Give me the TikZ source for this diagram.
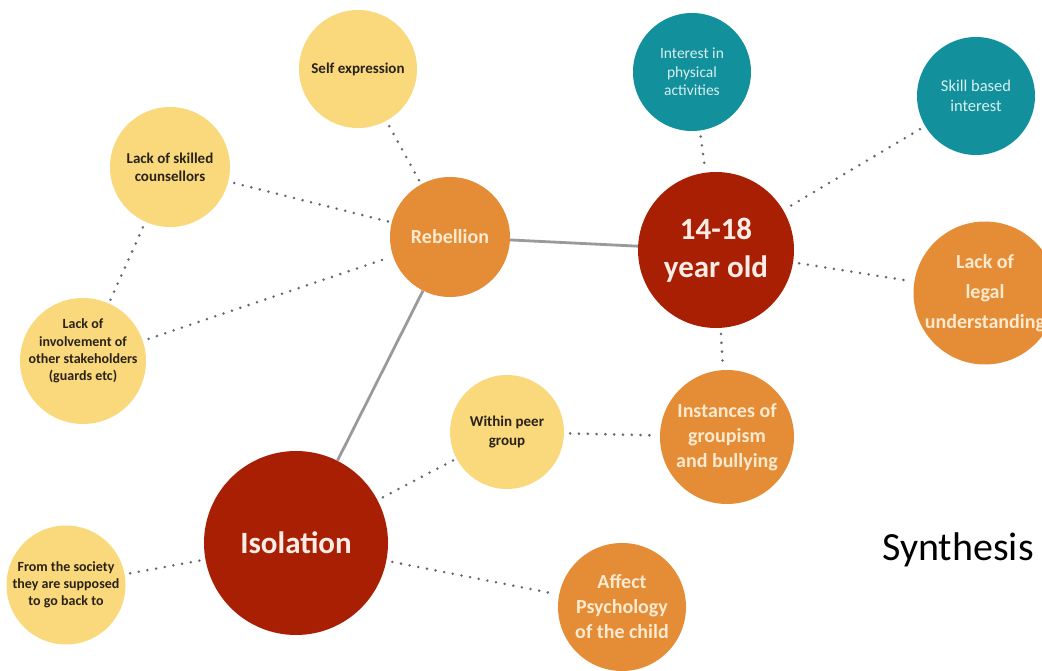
\documentclass[tikz,border=0pt]{standalone}
\usepackage{fontspec}
\setmainfont{Carlito}
\definecolor{cYel}{HTML}{F9D97C}
\definecolor{cOrg}{HTML}{E58D36}
\definecolor{cHub}{HTML}{A81F04}
\definecolor{cTeal}{HTML}{12919C}
\definecolor{cDark}{HTML}{2A2218}
\definecolor{cCream}{HTML}{FCEAD0}
\definecolor{cTealTxt}{HTML}{D8EFF0}
\definecolor{cHubTxt}{HTML}{FBEDE6}
\definecolor{cDot}{HTML}{5F6872}
\definecolor{cGray}{HTML}{9A9A9A}
\newcommand\myfs[2]{\fontsize{#1}{#2}\selectfont}
\tikzset{
  bub/.style={circle, inner sep=0pt, align=center},
  yel/.style={bub, fill=cYel, text=cDark, font=\bfseries\myfs{15}{18.3}},
  org/.style={bub, fill=cOrg, text=cCream, font=\bfseries\myfs{20}{25}},
  hub/.style={bub, fill=cHub, text=cHubTxt},
  tealbub/.style={bub, fill=cTeal, text=cTealTxt, font=\myfs{15.5}{18.5}},
  dotline/.style={draw=cDot, line width=2.8pt, line cap=round, dash pattern=on 0pt off 8.8pt, shorten <=6pt, shorten >=3pt},
  solidline/.style={draw=cGray, line width=2.8pt},
}
\begin{document}
\begin{tikzpicture}[x=1pt,y=-1pt]
\useasboundingbox (0,0) rectangle (1042,671);
\clip (0,0) rectangle (1042,671);
\fill[white] (0,0) rectangle (1042,671);

% nodes
\node[yel, minimum size=118pt] (self) at (358,69) {Self expression};
\node[yel, minimum size=120pt] (skilled) at (170,167) {Lack of skilled\\counsellors};
\node[bub, fill=cYel, minimum size=126pt,
  label={[yshift=10pt, align=center, text=cDark, font=\bfseries\myfs{14}{17.3}]center:Lack of\\involvement of\\other stakeholders\\(guards etc)}] (inv) at (83,361) {};
\node[org, minimum size=120pt] (reb) at (450,237) {Rebellion};
\node[tealbub, minimum size=118pt] (phys) at (692,72) {Interest in\\physical\\activities};
\node[tealbub, minimum size=118pt, font=\myfs{16.5}{20}] (skillint) at (976,96) {Skill based\\interest};
\node[hub, minimum size=156pt, font=\bfseries\myfs{31}{38}] (age) at (716,250) {14-18\\year old};
\node[org, minimum size=134pt, font=\bfseries\myfs{20}{30}] (legal) at (985,293) {Lack of\\legal\\understanding};
\node[yel, minimum size=114pt] (peer) at (507,432) {Within peer\\group};
\node[org, minimum size=134pt] (inst) at (727,437) {Instances of\\groupism\\and bullying};
\node[hub, minimum size=184pt, font=\bfseries\myfs{31}{38}] (iso) at (296,543) {Isolation};
\node[yel, minimum size=119pt, font=\bfseries\myfs{14}{17}] (soc) at (66,585) {From the society\\they are supposed\\to go back to};
\node[org, minimum size=128pt] (aff) at (622,607) {Affect\\Psychology\\of the child};
\node[anchor=base, font=\myfs{40}{48}, text=black, inner sep=0pt] (syn) at (958,560) {Synthesis};

% connectors
\draw[solidline] (reb) -- (age);
\draw[solidline] (reb) -- (iso);
\draw[dotline] (self) -- (reb);
\draw[dotline] (skilled) -- (reb);
\draw[dotline] (skilled) -- (inv);
\draw[dotline] (inv) -- (reb);
\draw[dotline] (phys) -- (age);
\draw[dotline] (skillint) -- (age);
\draw[dotline] (age) -- (legal);
\draw[dotline] (age) -- (inst);
\draw[dotline] (peer) -- (inst);
\draw[dotline] (iso) -- (peer);
\draw[dotline] (iso) -- (soc);
\draw[dotline] (iso) -- (aff);
\end{tikzpicture}
\end{document}
